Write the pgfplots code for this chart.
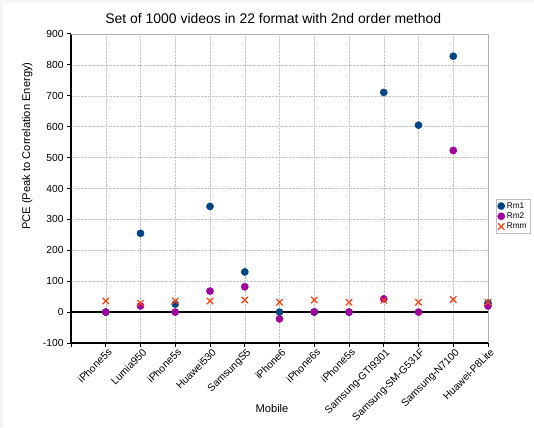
\documentclass[border=0pt]{standalone}
\usepackage{fontspec}
\setmainfont{Liberation Sans}
\usepackage{pgfplots}
\pgfplotsset{compat=1.18}
\definecolor{cblue}{HTML}{004586}
\definecolor{cpurp}{HTML}{A0009F}
\definecolor{corange}{HTML}{FF420E}
\definecolor{cgrid}{HTML}{C6C6C6}
\begin{document}
\begin{tikzpicture}[x=1bp,y=1bp]
\useasboundingbox (0,0) rectangle (534,427);
\fill[black!4] (0,0) rectangle (534,427);
\fill[white] (3,0) rectangle (534,424);
\begin{axis}[
  at={(71bp,84bp)}, anchor=south west,
  width=417bp, height=309bp, scale only axis,
  xmin=-1, xmax=11, ymin=-100, ymax=900,
  xtick={-1,0,...,11},
  xticklabels={,iPhone5s,Lumia950,iPhone5s,Huawei530,SamsungS5,iPhone6,iPhone6s,iPhone5s,Samsung-GTI9301,Samsung-SM-G531F,Samsung-N7100,Huawei-P8Lite},
  ytick={-100,0,...,900},
  xticklabel style={rotate=45, anchor=north east, font=\fontsize{10.3}{12}\selectfont, inner sep=1.5pt, xshift=2bp},
  yticklabel style={font=\fontsize{10.3}{12}\selectfont},
  /pgf/number format/assume math mode=true,
  grid=major,
  major grid style={cgrid, densely dotted, line width=0.5pt},
  axis x line*=bottom, axis y line*=left,
  axis line style={black, line width=1.2pt, -},
  tick align=outside,
  major tick length=4bp,
  tick style={black, line width=1pt},
  title={Set of 1000 videos in 22 format with 2nd order method},
  title style={font=\fontsize{14}{16}\selectfont, at={(axis description cs:0.485,1)}, anchor=south, yshift=1bp},
  xlabel={Mobile},
  xlabel style={font=\fontsize{11.2}{13}\selectfont, at={(axis description cs:0.482,0)}, anchor=center, yshift=-66bp},
  ylabel={PCE (Peak to Correlation Energy)},
  ylabel style={font=\fontsize{11.2}{13}\selectfont, at={(axis description cs:-0.105,0.637)}, anchor=center},
  legend style={at={(1.019,0.41)}, anchor=west, font=\fontsize{8.3}{9.5}\selectfont, draw=black!25, inner sep=1.5pt, row sep=-1pt},
  legend cell align=left,
  legend image code/.code={\draw[#1] plot coordinates {(0.12cm,0cm)};},
  clip=false,
]
\draw[black!30, line width=0.6pt] (rel axis cs:0,1) -- (rel axis cs:1,1) -- (rel axis cs:1,0);
\draw[black, line width=1.3pt] (axis cs:-1,0) -- (axis cs:11,0);
\addplot[only marks, mark=*, mark size=3.6bp, color=cblue, mark options={fill=cblue, draw=cblue}] coordinates {
(0,0) (1,255) (2,26) (3,342) (4,130) (5,0) (6,0) (7,0) (8,711) (9,605) (10,828) (11,29)};
\addlegendentry{Rm1}
\addplot[only marks, mark=*, mark size=3.6bp, color=cpurp, mark options={fill=cpurp, draw=cpurp}] coordinates {
(0,0) (1,20) (2,0) (3,68) (4,82) (5,-22) (6,1) (7,0) (8,43) (9,0) (10,523) (11,20)};
\addlegendentry{Rm2}
\addplot[only marks, mark=x, mark size=4.5bp, color=corange, mark options={line width=1.2pt}] coordinates {
(0,36) (1,29) (2,36) (3,36) (4,39) (5,32) (6,39) (7,32) (8,38) (9,32) (10,41) (11,32)};
\addlegendentry{Rmm}
\end{axis}
\end{tikzpicture}
\end{document}
